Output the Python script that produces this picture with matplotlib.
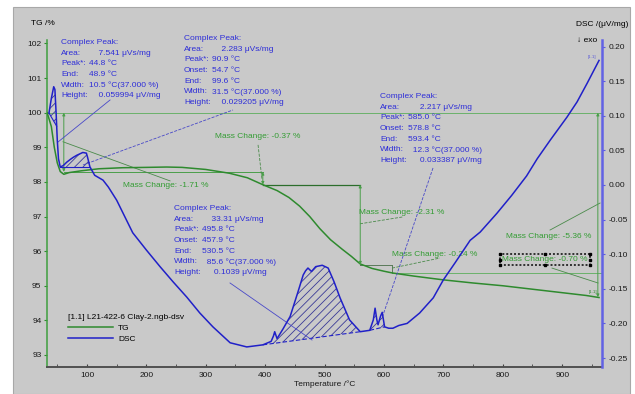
import numpy as np
import matplotlib.pyplot as plt
from matplotlib.patches import Rectangle

plt.rcParams['font.family'] = ['Liberation Sans', 'DejaVu Sans']
plt.rcParams['hatch.linewidth'] = 0.6

# TG curve (mass %)
tg_temp = [33, 40, 45, 50, 55, 61, 70, 90, 120, 160, 200, 234, 260, 300, 340, 370,
           396, 420, 440, 458, 475, 492, 510, 530, 545, 560, 580, 600, 614, 650,
           700, 750, 800, 850, 900, 940, 962]
tg_val = [100.0, 99.6, 99.0, 98.55, 98.3, 98.22, 98.27, 98.32, 98.38, 98.41, 98.42,
          98.43, 98.42, 98.36, 98.25, 98.12, 97.92, 97.75, 97.55, 97.3, 97.0, 96.65,
          96.33, 96.05, 95.85, 95.63, 95.5, 95.42, 95.37, 95.28, 95.17, 95.08, 95.0,
          94.9, 94.8, 94.72, 94.66]

# DSC curve (uV/mg)
dsc_temp = [36, 40, 44, 46, 48, 50, 52, 55, 60, 66, 72, 77, 83, 88, 93, 99, 101, 105,
            113, 127, 136, 150, 177, 200, 223, 245, 268, 290, 312, 341, 369, 396, 410,
            414, 416, 420, 430, 442, 455, 464, 468, 472, 478, 485, 496, 506, 516, 526,
            542, 560, 576, 582, 585, 588, 590, 594, 597, 601, 608, 615, 625, 639, 660,
            683, 700, 720, 745, 762, 790, 815, 840, 858, 880, 908, 925, 942, 962]
dsc_val = [0.104, 0.125, 0.142, 0.138, 0.105, 0.065, 0.038, 0.026, 0.028, 0.033, 0.037,
           0.040, 0.043, 0.045, 0.047, 0.046, 0.040, 0.026, 0.014, 0.007, -0.003, -0.022,
           -0.069, -0.094, -0.118, -0.140, -0.162, -0.185, -0.205, -0.228, -0.234,
           -0.231, -0.226, -0.218, -0.212, -0.222, -0.208, -0.190, -0.155, -0.130,
           -0.124, -0.120, -0.125, -0.118, -0.116, -0.120, -0.140, -0.163, -0.195,
           -0.212, -0.210, -0.195, -0.178, -0.195, -0.202, -0.190, -0.184, -0.205,
           -0.207, -0.207, -0.203, -0.200, -0.185, -0.163, -0.137, -0.112, -0.080,
           -0.068, -0.041, -0.015, 0.013, 0.038, 0.065, 0.098, 0.120, 0.147, 0.180]

# mass change steps: temperature of each step marker and the change in %
step_temp = [61, 396, 560, 614]
step_change = [-1.71, -0.37, -2.31, -0.24]
total_change = -5.36
last_change = -0.70
end_temp = 960

# integrated peaks: (start, end) temperature
peak_ranges = [(36, 49), (55, 105), (396, 560), (576, 601)]
peak_rows = [
    [('Complex Peak:', ''), ('Area:', '    7.541 μVs/mg'), ('Peak*:', '44.8 °C'),
     ('End:', '48.9 °C'), ('Width:', '10.5 °C(37.000 %)'), ('Height:', '    0.059994 μV/mg')],
    [('Complex Peak:', ''), ('Area:', '    2.283 μVs/mg'), ('Peak*:', '90.9 °C'),
     ('Onset:', '54.7 °C'), ('End:', '99.6 °C'), ('Width:', '31.5 °C(37.000 %)'),
     ('Height:', '    0.029205 μV/mg')],
    [('Complex Peak:', ''), ('Area:', '    33.31 μVs/mg'), ('Peak*:', '495.8 °C'),
     ('Onset:', '457.9 °C'), ('End:', '530.5 °C'), ('Width:', '  85.6 °C(37.000 %)'),
     ('Height:', '     0.1039 μV/mg')],
    [('Complex Peak:', ''), ('Area:', '     2.217 μVs/mg'), ('Peak*:', '585.0 °C'),
     ('Onset:', '578.8 °C'), ('End:', '593.4 °C'), ('Width:', '  12.3 °C(37.000 %)'),
     ('Height:', '     0.033387 μV/mg')],
]

TG_C = '#2e8a2e'
TXT_G = '#349c34'
DSC_C = '#2020c8'
TXT_B = '#2e2ed8'
BG = '#c9c9c9'

fig = plt.figure(figsize=(6.35, 3.94), dpi=100, facecolor='white')
fig.patches.append(Rectangle((13 / 635, 0), 617 / 635, 387 / 394, transform=fig.transFigure,
                             facecolor=BG, edgecolor='#a8a8a8', lw=0.8, zorder=-10))

ax1 = fig.add_axes([47 / 635, 27 / 394, 555 / 635, 327 / 394])
ax1.set_facecolor('none')
ax2 = ax1.twinx()

ax1.set_xlim(32.7, 967)
ax1.set_ylim(92.653, 102.10)
ax2.set_ylim(-0.263, 0.2095)

# curves
tg_line, = ax1.plot(tg_temp, tg_val, color=TG_C, lw=1.1, zorder=3)
dsc_line, = ax2.plot(dsc_temp, dsc_val, color=DSC_C, lw=1.1, zorder=4)

# hatched peak areas with their baselines
t = np.array(dsc_temp, float)
d = np.array(dsc_val, float)
for i, (t0, t1) in enumerate(peak_ranges):
    tt = np.linspace(t0, t1, 60)
    cc = np.interp(tt, t, d)
    base = np.interp(tt, [t0, t1], [cc[0], cc[-1]])
    ax2.fill_between(tt, cc, base, facecolor='none', edgecolor='#3a3a96', hatch='////', lw=0)
    ax2.plot([t0, t1], [cc[0], cc[-1]], color=DSC_C, lw=0.8, ls=(0, (4, 2)) if i >= 2 else '-')

# mass change construction lines
levels = [100.0]
for c in step_change:
    levels.append(round(levels[-1] + c, 2))
final = round(levels[-1] + last_change, 2)
xmax = ax1.get_xlim()[1]
ax1.axhline(levels[0], color='#5cae5c', lw=0.6, zorder=2)
ax1.plot([step_temp[0], step_temp[1]], [levels[1]] * 2, color='#4a9e4a', lw=0.7)
ax1.plot([step_temp[1], step_temp[2]], [levels[2]] * 2, color='#2c6e2c', lw=0.9)
ax1.plot([step_temp[2], step_temp[3]], [levels[3]] * 2, color='#5a7a5a', lw=0.7)
ax1.plot([step_temp[3], step_temp[3]], [levels[3], levels[4]], color='#5a7a5a', lw=0.7)
ax1.plot([step_temp[3], xmax], [levels[4]] * 2, color='#5cae5c', lw=0.6)
arr = dict(arrowstyle='<|-|>', color='#4a9e4a', lw=0.7, mutation_scale=4, shrinkA=0, shrinkB=0)
for k in range(3):
    ax1.annotate('', xy=(step_temp[k], levels[k]), xytext=(step_temp[k], levels[k + 1]),
                 arrowprops=arr)
ax1.annotate('', xy=(end_temp, levels[0]), xytext=(end_temp, final), arrowprops=arr)

# mass change labels with leaders
mc_pos = [(160.6, 97.91), (315.5, 99.30), (558, 97.13), (613.5, 95.89)]
mc_lead = [((59.6, 99.16), (239.8, 98.03), '-'), ((388, 99.07), (394.7, 98.06), '--'),
           ((559.6, 96.79), (632, 96.99), '--'), ((613.5, 95.51), (694, 95.80), '--')]
for c, (x, y) in zip(step_change, mc_pos):
    ax1.text(x, y, f'Mass Change: {c:.2f} %', color=TXT_G, fontsize=6, va='center')
for p0, p1, ls in mc_lead:
    ax1.plot([p0[0], p1[0]], [p0[1], p1[1]], color='#4a8a4a', lw=0.6, ls=ls)
ax1.text(805.4, 96.41, f'Mass Change: {total_change:.2f} %', color=TXT_G, fontsize=6, va='center')
ax1.plot([963.7, 879.5], [97.39, 96.61], color='#4a8a4a', lw=0.6)
sel = ax1.text(798.7, 95.75, f'Mass Change: {last_change:.2f} %', color=TXT_G, fontsize=6,
               va='center', bbox=dict(boxstyle='square,pad=0.25', fc='none', ec='#303030',
                                      ls=(0, (1, 1)), lw=1.4))
ax1.plot([882.9, 960.3], [95.51, 95.08], color='#4a8a4a', lw=0.6)

# peak annotation blocks with leaders
blk_pos = [(56.3, 0.211), (263.3, 0.2168), (246.5, -0.0289), (593.3, 0.133)]
blk_lead = [((51.2, 0.0621), (138.8, 0.1228), '-'), ((93.3, 0.0289), (345.8, 0.1084), '--'),
            ((340.8, -0.1416), (478.8, -0.224), '-'), ((682.5, 0.0246), (596.7, -0.1922), '--')]
for (x, y), rows in zip(blk_pos, peak_rows):
    for i, (lab, val) in enumerate(rows):
        ax2.annotate(lab, (x, y), xytext=(0, -i * 7.7), textcoords='offset points',
                     color=TXT_B, fontsize=6, va='top', ha='left', annotation_clip=False)
        ax2.annotate(val, (x, y), xytext=(20.5, -i * 7.7), textcoords='offset points',
                     color=TXT_B, fontsize=6, va='top', ha='left', annotation_clip=False)
for p0, p1, ls in blk_lead:
    ax2.plot([p0[0], p1[0]], [p0[1], p1[1]], color='#4848c8', lw=0.6, ls=ls)

ax2.text(950, 0.185, '[1.1]', color='#5a5ad8', fontsize=3.2, ha='center', va='center')
ax1.text(952, 94.82, '[1.1]', color=TG_C, fontsize=3.2, ha='center', va='center')

# axes styling
dsc_ticks = np.round(np.arange(-0.25, 0.201, 0.05), 2)
ax1.set_xticks(range(100, 901, 100))
ax1.set_xticks(range(50, 951, 50), minor=True)
ax1.set_yticks(range(93, 103))
ax2.set_yticks(dsc_ticks)
ax2.set_yticklabels([f'{v:.2f}' if v != 0 else '0.00' for v in dsc_ticks])
ax1.tick_params(axis='x', which='both', direction='in', length=2.5, color='#404040',
                labelsize=6, pad=3.5, labelcolor='#1a1a1a')
ax1.tick_params(axis='y', direction='out', length=2.5, color=TG_C, labelsize=6, pad=1.5,
                labelcolor='#1a1a1a')
ax2.tick_params(axis='y', direction='out', length=2.5, color='#5a5ae0', labelsize=6, pad=2.5,
                labelcolor='#1a1a1a')
for a in (ax1, ax2):
    a.spines['top'].set_visible(False)
ax1.spines['right'].set_visible(False)
ax2.spines['left'].set_visible(False)
ax2.spines['bottom'].set_visible(False)
ax1.spines['left'].set_color('#3e9e3e')
ax1.spines['left'].set_linewidth(1.1)
ax1.spines['bottom'].set_color('#505050')
ax1.spines['bottom'].set_linewidth(1.4)
ax2.spines['right'].set_color('#6262e4')
ax2.spines['right'].set_linewidth(1.8)

ax1.set_xlabel('Temperature /°C', fontsize=6, labelpad=1, color='#1a1a1a')
ax1.text(-0.007, 1.049, 'TG /%', transform=ax1.transAxes, fontsize=6, ha='center', va='center')
ax2.text(1.0, 1.046, 'DSC /(μV/mg)', transform=ax2.transAxes, fontsize=6, ha='center',
         va='center')
ax2.text(0.973, 1.0, '↓ exo', transform=ax2.transAxes, fontsize=6, ha='center', va='center')

leg = ax2.legend([tg_line, dsc_line], ['TG', 'DSC'], title='[1.1] L21-422-6 Clay-2.ngb-dsv',
                 loc='upper left', bbox_to_anchor=(0.0378, 0.162), frameon=False, fontsize=6,
                 title_fontsize=6, handlelength=5.4, handletextpad=0.6, labelspacing=0.4,
                 borderpad=0, borderaxespad=0, alignment='left')

# selection handles round the highlighted label
fig.canvas.draw()
bb = sel.get_bbox_patch().get_window_extent()
hx = [bb.x0, (bb.x0 + bb.x1) / 2, bb.x1]
hy = [bb.y0, (bb.y0 + bb.y1) / 2, bb.y1]
pts = [(x, y) for x in hx for y in hy if not (x == hx[1] and y == hy[1])]
inv = ax1.transData.inverted()
dp = inv.transform(pts)
ax1.plot(dp[:, 0], dp[:, 1], 's', color='black', ms=1.8, zorder=6)

fig.savefig('out.png', dpi=100, facecolor=fig.get_facecolor())
